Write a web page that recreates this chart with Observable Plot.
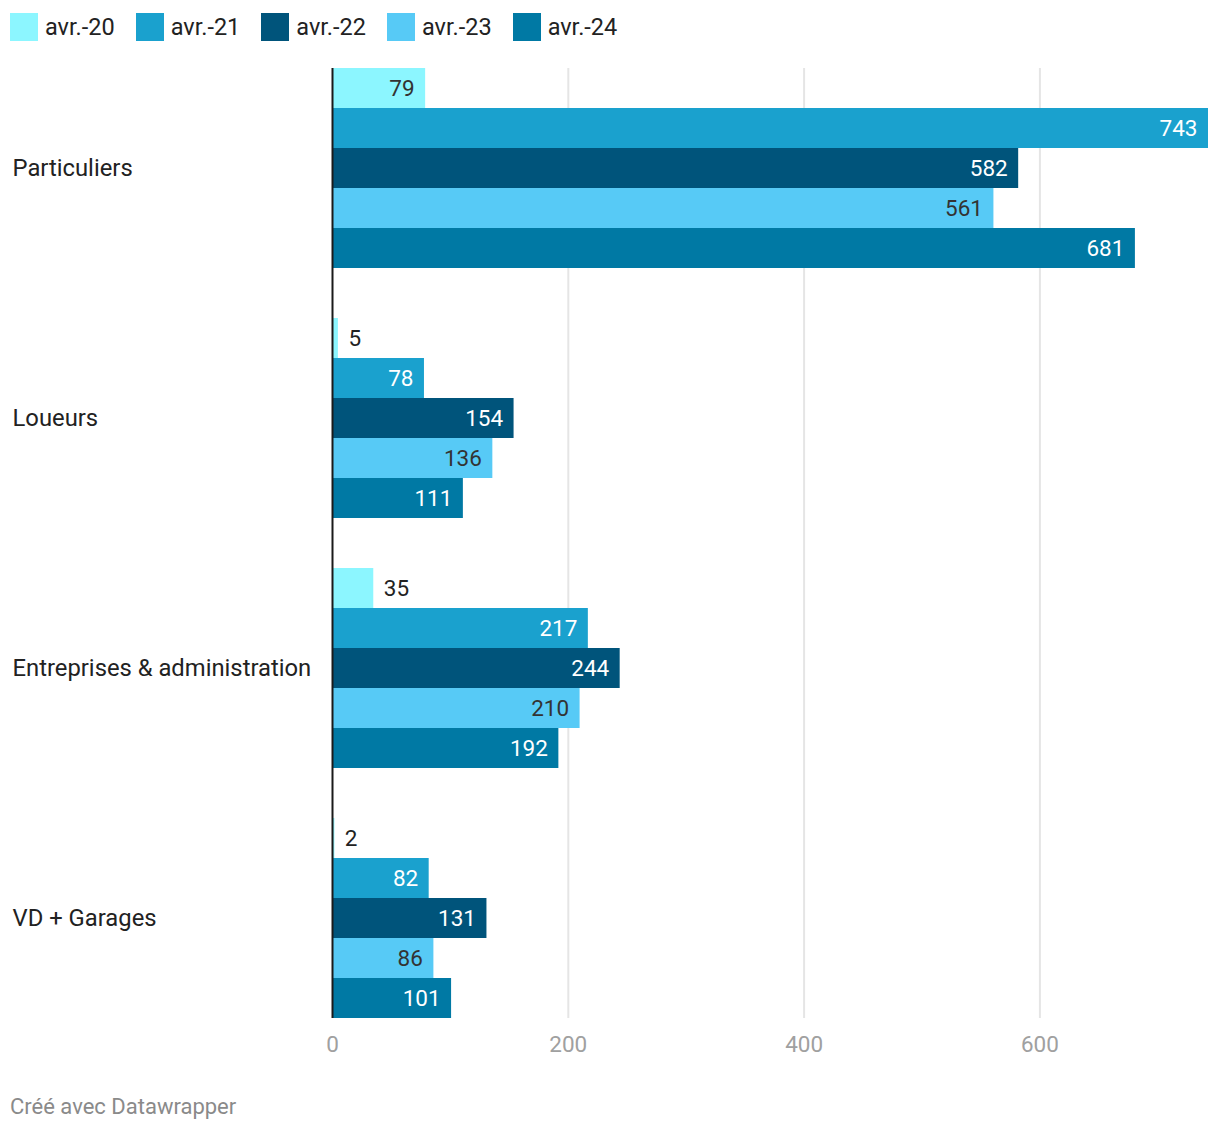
<!DOCTYPE html>
<html>
<head>
<meta charset="utf-8">
<script src="https://cdn.jsdelivr.net/npm/d3@7"></script>
<script src="https://cdn.jsdelivr.net/npm/@observablehq/plot@0.6"></script>
<style>
  body { margin: 0; background: #fff; font-family: Roboto, sans-serif; }
  #wrap { position: relative; width: 1220px; height: 1132px; }
  #legend { position: absolute; left: 10px; top: 13px; display: flex; align-items: center; font-size: 23.5px; color: #222; line-height: 28px; }
  .item { display: flex; align-items: center; margin-right: 21px; }
  .sw { width: 28px; height: 28px; margin-right: 7px; }
  #chart { position: absolute; left: 0; top: 52px; }
  #caption { position: absolute; left: 10px; top: 1094px; font-size: 22px; line-height: 26px; color: #8a8a8a; }
</style>
</head>
<body>
<div id="wrap">
  <div id="legend"></div>
  <div id="chart"></div>
  <div id="caption">Créé avec Datawrapper</div>
</div>
<script>
const categories = ["Particuliers", "Loueurs", "Entreprises & administration", "VD + Garages"];
const series = ["avr.-20", "avr.-21", "avr.-22", "avr.-23", "avr.-24"];
const avr20 = [79, 5, 35, 2];
const avr21 = [743, 78, 217, 82];
const avr22 = [582, 154, 244, 131];
const avr23 = [561, 136, 210, 86];
const avr24 = [681, 111, 192, 101];
const xTicks = [0, 200, 400, 600];

const seriesValues = [avr20, avr21, avr22, avr23, avr24];
const colors = ["#8cf6ff", "#1aa1ce", "#00547b", "#57caf6", "#0079a4"];
const lightSeries = new Set(["avr.-20", "avr.-23"]);

// band layout in abstract units: each bar = 1 unit, gap between groups = 1.25 units
const gap = 1.25;
const step = series.length + gap;
const table = [];
categories.forEach((c, g) => {
  series.forEach((s, k) => {
    const v = seriesValues[k][g];
    table.push({category: c, series: s, value: v, y1: g * step + k, y2: g * step + k + 1});
  });
});
const catRows = categories.map((c, g) => ({category: c, ym: g * step + series.length / 2}));

const isInside = d => d.value >= 50;

// legend
const legend = document.getElementById("legend");
series.forEach((s, i) => {
  const it = document.createElement("div");
  it.className = "item";
  const sw = document.createElement("div");
  sw.className = "sw";
  sw.style.background = colors[i];
  const t = document.createElement("span");
  t.textContent = s;
  it.appendChild(sw); it.appendChild(t);
  legend.appendChild(it);
});

const xMax = d3.max(table, d => d.value);
const chart = Plot.plot({
  width: 1220,
  height: 1016,
  marginTop: 16,
  marginBottom: 50,
  marginLeft: 332,
  marginRight: 12,
  style: {fontFamily: "Roboto, sans-serif", fontSize: "22px", background: "#fff"},
  x: {domain: [0, xMax]},
  y: {domain: [0, categories.length * step - gap], reverse: true, axis: null},
  color: {domain: series, range: colors},
  marks: [
    Plot.ruleX(xTicks.filter(t => t > 0), {stroke: "#e5e5e5", strokeWidth: 2}),
    Plot.rectX(table, {x1: 0, x2: "value", y1: "y1", y2: "y2", fill: "series"}),
    Plot.ruleX([0], {stroke: "#1a1a1a", strokeWidth: 2}),
    Plot.text(table.filter(d => isInside(d) && lightSeries.has(d.series)), {
      x: "value", y: d => (d.y1 + d.y2) / 2, text: d => String(d.value),
      textAnchor: "end", dx: -11, fill: "#333", fontSize: 22.5
    }),
    Plot.text(table.filter(d => isInside(d) && !lightSeries.has(d.series)), {
      x: "value", y: d => (d.y1 + d.y2) / 2, text: d => String(d.value),
      textAnchor: "end", dx: -11, fill: "#ffffff", fontSize: 22.5
    }),
    Plot.text(table.filter(d => !isInside(d)), {
      x: "value", y: d => (d.y1 + d.y2) / 2, text: d => String(d.value),
      textAnchor: "start", dx: 10, fill: "#222", fontSize: 22.5
    }),
    Plot.text(catRows, {
      y: "ym", text: "category", frameAnchor: "left", dx: -320,
      textAnchor: "start", fill: "#222", fontSize: 23.8
    }),
    Plot.axisX({ticks: xTicks, tickSize: 0, tickPadding: 18, anchor: "bottom", fill: "#a0a0a0", fontSize: 22.5, label: null})
  ]
});
document.getElementById("chart").appendChild(chart);
</script>
</body>
</html>
